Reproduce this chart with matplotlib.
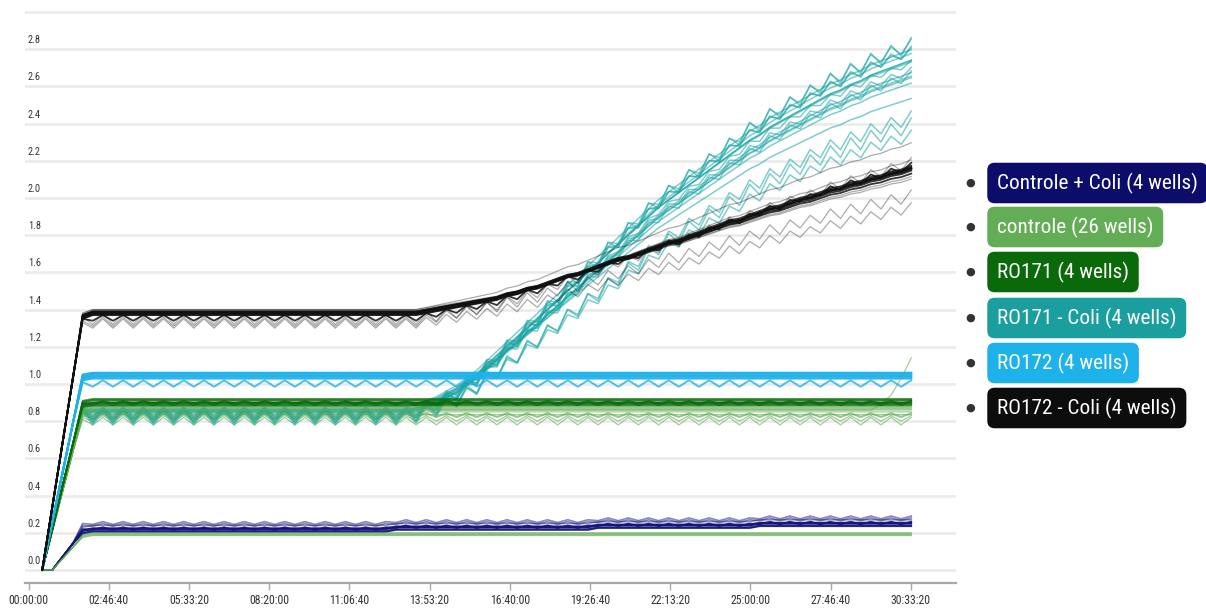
import matplotlib.pyplot as plt
import matplotlib.transforms as mtransforms
import matplotlib.font_manager as fm
from matplotlib.ticker import FuncFormatter
import numpy as np

# sampling grid (seconds) – one reading every 1260 s
T_START = 1700
T_STEP = 1260
N = 87

# group mean curves (absorbance)
RO172_COLI = ([0.0, 0.34, 0.68, 1.02, 1.36] + [1.38] * 33 +
              [1.39, 1.40, 1.41, 1.42, 1.43, 1.44, 1.45, 1.46, 1.48, 1.49,
               1.51, 1.52, 1.54, 1.56, 1.58, 1.59, 1.61, 1.63, 1.65, 1.67,
               1.68, 1.70, 1.72, 1.74, 1.76, 1.77, 1.79, 1.81, 1.83, 1.85,
               1.87, 1.88, 1.90, 1.92, 1.94, 1.95, 1.97, 1.99, 2.00, 2.02,
               2.04, 2.05, 2.07, 2.08, 2.10, 2.11, 2.13, 2.14, 2.16])
RO171_COLI = ([0.0, 0.22, 0.44, 0.66, 0.86] + [0.86] * 32 +
              [0.87, 0.89, 0.91, 0.94, 0.97, 1.01, 1.05, 1.10, 1.15, 1.20,
               1.25, 1.30, 1.35, 1.40, 1.45, 1.50, 1.55, 1.60, 1.65, 1.70,
               1.75, 1.80, 1.85, 1.90, 1.95, 1.99, 2.03, 2.07, 2.11, 2.15,
               2.19, 2.23, 2.27, 2.31, 2.34, 2.38, 2.41, 2.44, 2.47, 2.50,
               2.53, 2.56, 2.58, 2.61, 2.63, 2.66, 2.68, 2.70, 2.72, 2.74])
RO172 = [0.0, 0.26, 0.52, 0.78, 1.03] + [1.04] * 82
RO171 = [0.0, 0.22, 0.45, 0.67, 0.89] + [0.90] * 82
CONTROLE = [0.0, 0.21, 0.42, 0.63, 0.85] + [0.86] * 82
CONTROLE_BLANK = [0.0, 0.0, 0.06, 0.12, 0.18] + [0.19] * 82
CONTROLE_COLI = ([0.0, 0.0, 0.07, 0.14, 0.21] + [0.22] * 30 + [0.23] * 20 +
                 [0.24] * 16 + [0.25] * 16)
CONTROLE_TAIL = [0.03, 0.08, 0.17, 0.28]  # the one control well that takes off at the end

# per well: offset, growth scale, sawtooth amplitude
BLACK_OFF = [0.0, 0.01, -0.01, 0.02, -0.02, 0.0, 0.01, -0.01, 0.0, 0.02, -0.03, 0.0, 0.01, -0.01, 0.005, -0.005]
BLACK_SCALE = [1.0, 0.95, 1.05, 0.9, 1.1, 1.0, 0.98, 1.02, 0.85, 1.15, 0.8, 1.0, 0.93, 1.07, 1.01, 0.99]
BLACK_AMP = [0, 0, 0.03, 0, 0.05, 0, 0, 0.0, 0.06, 0, 0.05, 0, 0, 0, 0, 0.0]
TEAL_OFF = [0.0, 0.01, -0.01, 0.02, 0.0, -0.02, 0.01, 0.0, -0.01, 0.02,
            0.0, 0.01, -0.01, 0.0, 0.01, -0.01, 0.0, 0.02, -0.02, 0.0]
TEAL_SCALE = [1.0, 1.03, 0.97, 1.05, 0.95, 1.01, 0.99, 1.04, 0.96, 1.02,
              0.98, 1.06, 0.94, 1.0, 0.83, 0.86, 0.80, 0.88, 1.03, 0.97]
TEAL_AMP = [0, 0.04, 0, 0.06, 0, 0.03, 0, 0.05, 0, 0,
            0.04, 0.08, 0, 0, 0.08, 0.07, 0.06, 0, 0, 0.05]
BLUE_OFF = [0.0, 0.01, 0.02, -0.01, 0.015, -0.02, 0.005, 0.02, -0.01, 0.0]
BLUE_AMP = [0, 0, 0.0, 0, 0, 0.035, 0, 0, 0.0, 0]
GREEN_OFF = [0.0, 0.01, -0.01, 0.02, 0.005, -0.005, 0.015, -0.015, 0.0, 0.01]
GREEN_AMP = [0, 0.015, 0, 0, 0.02, 0, 0, 0.0, 0, 0]
LGREEN_OFF = [0.0, -0.02, 0.01, -0.03, 0.02, -0.01, -0.04, 0.0, 0.015, -0.025, 0.005, -0.015]
LGREEN_AMP = [0, 0.02, 0, 0.03, 0, 0, 0.04, 0, 0.0, 0, 0, 0.02]
BLANK_OFF = [0.0, 0.005, -0.005, 0.01]
NAVY_OFF = [0.0, 0.01, -0.01, 0.02, 0.03, 0.0, -0.015, 0.04, 0.005]
NAVY_AMP = [0, 0.015, 0, 0, 0.015, 0, 0, 0.015, 0]

LEGEND = [
    ('Controle + Coli (4 wells)', '#0c0c6a'),
    ('controle (26 wells)', '#62ad55'),
    ('RO171 (4 wells)', '#0a6a0a'),
    ('RO171 - Coli (4 wells)', '#1a9e9e'),
    ('RO172 (4 wells)', '#1db2ea'),
    ('RO172 - Coli (4 wells)', '#0d0d0d'),
]
LEGEND_Y = [183, 227, 272, 318, 363, 408]

time = T_START + T_STEP * np.arange(N)
ZIG = np.tile([0.0, -1.0], 44)[:N]

# pick a narrow font if one is installed
installed = {f.name for f in fm.fontManager.ttflist}
cond_dejavu = any(f.name == 'DejaVu Sans' and str(f.stretch) == 'condensed'
                  for f in fm.fontManager.ttflist)
narrow = None
for name in ['Roboto Condensed', 'Liberation Sans Narrow', 'Open Sans Condensed']:
    if name in installed:
        narrow = dict(family=name)
        break
if narrow is None:
    narrow = dict(family='DejaVu Sans', stretch='condensed') if cond_dejavu else dict(family='Roboto')


def well(base, plateau, off, scale=1.0, amp=0.0):
    base = np.asarray(base, dtype=float)
    y = base + np.clip(base - plateau, 0, None) * (scale - 1)
    y[4:] += off
    y[5:] += amp * ZIG[5:]
    return y


fig = plt.figure(figsize=(12.06, 6.12), dpi=100)
ax = fig.add_axes([25 / 1206, 1 - 583 / 612, 931 / 1206, 572 / 612])
ax.set_xlim(-450, 115640)
ax.set_ylim(-0.07, 3.005)

# grid
for v in np.arange(0, 3.01, 0.2):
    ax.axhline(v, color='#ebebeb', lw=1.9, zorder=0)

lw = 0.9
for o, s, a in zip(TEAL_OFF, TEAL_SCALE, TEAL_AMP):
    ax.plot(time, well(RO171_COLI, 0.86, o, s, a), color='#1aa5a5', lw=lw + 0.2, alpha=0.55)
for o, a in zip(NAVY_OFF, NAVY_AMP):
    ax.plot(time, well(CONTROLE_COLI, 0.22, o, 1.0, a), color='#15157a', lw=lw + 0.3,
            alpha=0.9 if o <= 0.01 else 0.5)
for o in BLANK_OFF:
    ax.plot(time, well(CONTROLE_BLANK, 0.19, o), color='#55a84a', lw=lw, alpha=0.6)
for i, (o, a) in enumerate(zip(LGREEN_OFF, LGREEN_AMP)):
    y = well(CONTROLE, 0.86, o, 1.0, a)
    if i == 0:
        y[-4:] += CONTROLE_TAIL
    ax.plot(time, y, color='#62ad55', lw=lw, alpha=0.6)
for o, a in zip(GREEN_OFF, GREEN_AMP):
    ax.plot(time, well(RO171, 0.90, o, 1.0, a), color='#0a6a0a', lw=lw + 0.3, alpha=0.7)
for o, a in zip(BLUE_OFF, BLUE_AMP):
    ax.plot(time, well(RO172, 1.04, o, 1.0, a), color='#1db2ea', lw=lw + 0.5, alpha=0.8)
for o, s, a in zip(BLACK_OFF, BLACK_SCALE, BLACK_AMP):
    core = abs(s - 1) < 0.06
    ax.plot(time, well(RO172_COLI, 1.38, o, s, a), color='#111111',
            lw=lw + 0.4 if core else lw, alpha=0.85 if core else 0.35)

# axes styling
for side in ['top', 'right', 'left']:
    ax.spines[side].set_visible(False)
ax.spines['bottom'].set_color('#a8a8a8')
ax.spines['bottom'].set_linewidth(1.6)
ax.set_yticks([])
ax.set_xticks(np.arange(0, 110001, 10000))


def hms(t, pos):
    t = int(round(t))
    return f'{t // 3600:02d}:{t % 3600 // 60:02d}:{t % 60:02d}'


ax.xaxis.set_major_formatter(FuncFormatter(hms))
ax.tick_params(axis='x', length=5, width=1, color='#a8a8a8', pad=3,
               labelsize=8.5, labelcolor='#333333')
for lbl in ax.get_xticklabels():
    lbl.set(**narrow)

ytrans = mtransforms.blended_transform_factory(ax.transAxes, ax.transData) + \
    mtransforms.ScaledTranslation(0, 0.09, fig.dpi_scale_trans)
for v in np.arange(0, 2.81, 0.2):
    ax.text(0.003, v, f'{v:.1f}', transform=ytrans, ha='left', va='center',
            fontsize=7.5, color='#333333', **narrow)

# legend
labels = []
for (name, col), yy in zip(LEGEND, LEGEND_Y):
    fy = 1 - yy / 612
    fig.text(970 / 1206, fy, '\u25cf', ha='center', va='center', fontsize=8,
             color='#333333', family='DejaVu Sans')
    labels.append(fig.text(997 / 1206, fy, name, ha='left', va='center', fontsize=14,
                           color='white', **narrow,
                           bbox=dict(boxstyle='round,pad=0.5,rounding_size=0.35',
                                     fc=col, ec='none')))

# longest label should span about 202 px like the original
r = fig.canvas.get_renderer()
w = labels[0].get_window_extent(renderer=r).width
fs = min(16, 14 * 202 / w)
for t in labels:
    t.set_fontsize(fs)
    t.get_bbox_patch().set_boxstyle('round', pad=0.5 * 14 / fs, rounding_size=0.35)

fig.savefig('out.png', dpi=100)
